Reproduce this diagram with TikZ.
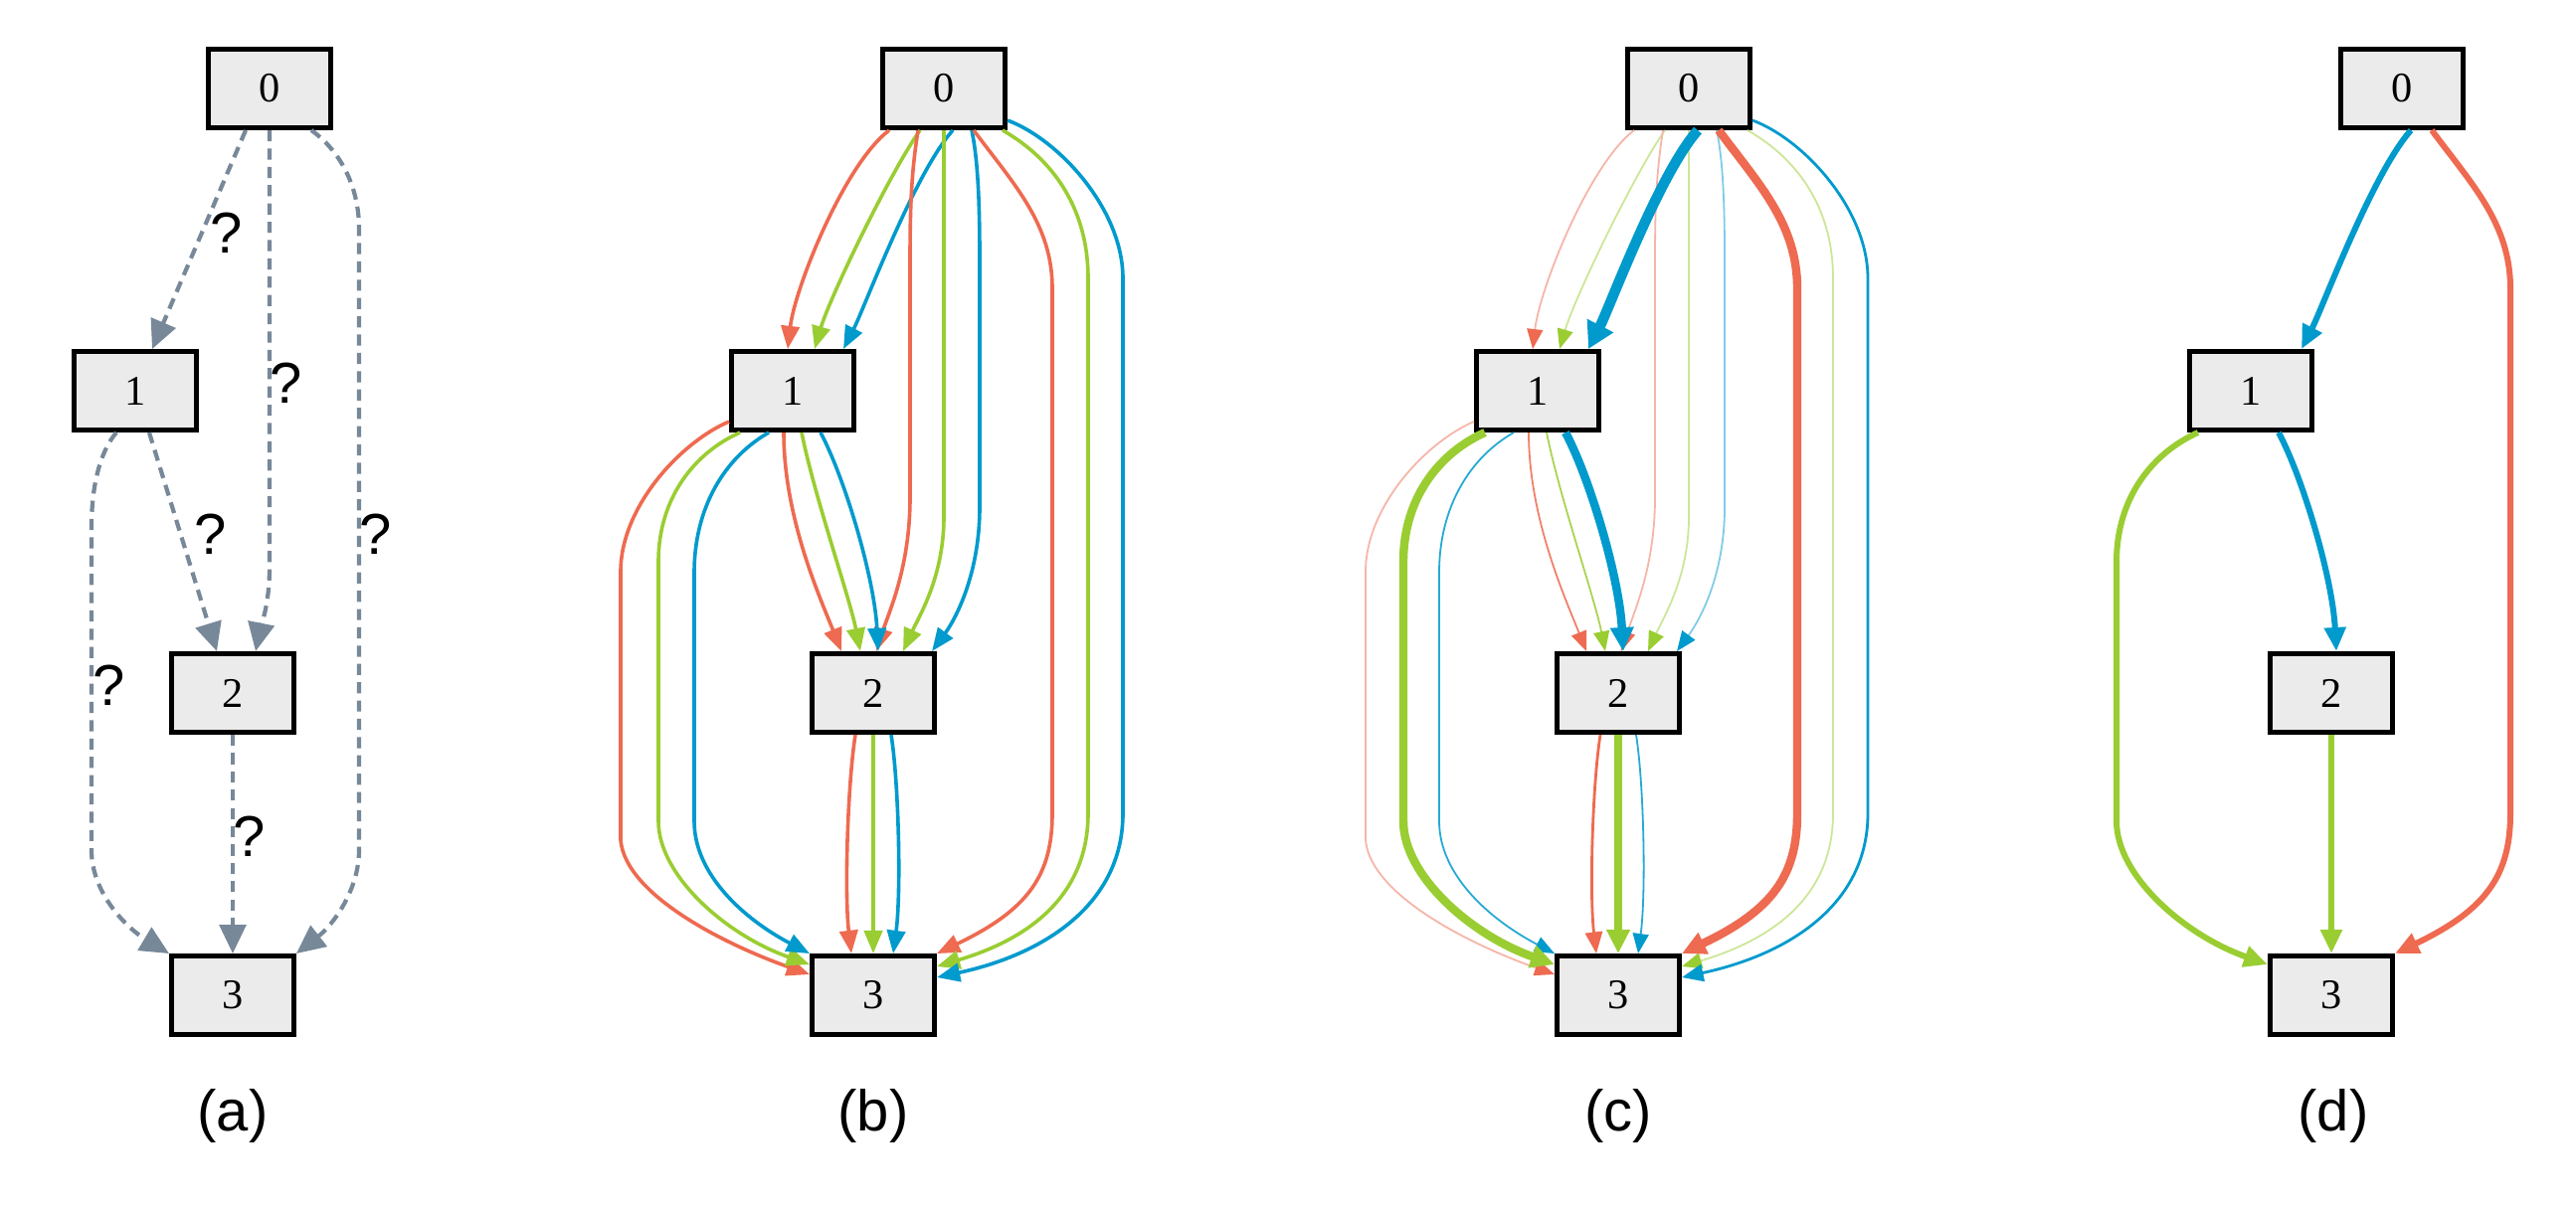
\documentclass[tikz,border=0pt]{standalone}
\usepackage{fontspec}
\setmainfont{Liberation Serif}
\newfontfamily\sansf{Liberation Sans}
\usetikzlibrary{arrows.meta}
\definecolor{boxgray}{HTML}{EBEBEB}
\definecolor{slate}{HTML}{778899}
\definecolor{ered}{HTML}{EE6A50}
\definecolor{egreen}{HTML}{9ACD32}
\definecolor{eblue}{HTML}{009ACD}
\tikzset{
 box/.style={draw=black, line width=1.2pt, fill=boxgray, minimum width=30.8pt, minimum height=19.8pt, inner sep=0pt, font=\fontsize{10.6pt}{12pt}\selectfont},
 qm/.style={font=\sansf\fontsize{14.5pt}{17pt}\selectfont, inner sep=0pt},
 capt/.style={font=\sansf\fontsize{14.5pt}{17pt}\selectfont, inner sep=0pt, anchor=base},
 dsh/.style={draw=slate, line width=1.05pt, dash pattern=on 2.8pt off 1.8pt, -{Triangle[length=7.2pt,width=6.6pt]}},
 nrm/.style={draw=#1, line width=0.9pt, -{Triangle[length=5.8pt,width=4.6pt]}},
 fad/.style={draw=#1!50, line width=0.45pt, -{Triangle[length=5pt,width=4pt,color=#1]}},
 thn/.style={draw=#1!85, line width=0.45pt, -{Triangle[length=5pt,width=4pt,color=#1]}},
 med/.style={draw=#1, line width=0.7pt, -{Triangle[length=5.4pt,width=4.3pt]}},
 thk/.style={draw=#1, line width=2.1pt, -{Triangle[length=6pt,width=5.6pt]}},
 vthk/.style={draw=#1, line width=2.6pt, -{Triangle[length=6.6pt,width=7pt]}},
 dthk/.style={draw=#1, line width=1.5pt, -{Triangle[length=6pt,width=5.2pt]}},
}
\newcommand\mkpanel[2]{%
 \node[box] (#10) at (#2,89) {0};
 \node[box] (#11) at (#2-152,393) {1};
 \node[box] (#12) at (#2-71,697) {2};
 \node[box] (#13) at (#2-71,1001) {3};
}
\newcommand\pabR[3]{\draw[#3] ([xshift=-13.75pt]#10.south) .. controls (#2-100,165) and (#2-150,290) .. ([xshift=-1.25pt]#11.north);}
\newcommand\pabG[3]{\draw[#3] ([xshift=-6pt]#10.south) .. controls (#2-55,175) and (#2-115,300) .. ([xshift=5.5pt]#11.north);}
\newcommand\pabB[3]{\draw[#3] ([xshift=2.25pt]#10.south) .. controls (#2-30,175) and (#2-80,310) .. ([xshift=12.75pt]#11.north);}
\newcommand\pacR[3]{\draw[#3] ([xshift=-6.5pt]#10.south) .. controls (#2-32,170) and (#2-34,200) .. (#2-34,260) -- (#2-34,500) .. controls (#2-34,570) and (#2-55,615) .. ([xshift=0.75pt]#12.north);}
\newcommand\pacG[3]{\draw[#3] (#10.south) -- (#2,520) .. controls (#2,580) and (#2-25,620) .. ([xshift=7.5pt]#12.north);}
\newcommand\pacB[3]{\draw[#3] ([xshift=7pt]#10.south) .. controls (#2+34,160) and (#2+36,200) .. (#2+36,260) -- (#2+36,510) .. controls (#2+36,580) and (#2+10,625) .. ([xshift=14.75pt]#12.north);}
\newcommand\padR[3]{\draw[#3] ([xshift=7.5pt]#10.south) .. controls (#2+70,185) and (#2+109,225) .. (#2+109,290) -- (#2+109,818) .. controls (#2+109,880) and (#2+85,915) .. (#13.north east);}
\newcommand\padG[3]{\draw[#3] ([xshift=14.75pt]#10.south) .. controls (#2+110,160) and (#2+145,210) .. (#2+145,280) -- (#2+145,818) .. controls (#2+145,890) and (#2+100,940) .. ([yshift=7.25pt]#13.east);}
\newcommand\padB[3]{\draw[#3] ([yshift=-8pt]#10.east) .. controls (#2+115,140) and (#2+180,210) .. (#2+180,280) -- (#2+180,818) .. controls (#2+180,910) and (#2+100,960) .. ([yshift=4.5pt]#13.east);}
\newcommand\pbcR[3]{\draw[#3] ([xshift=-2.25pt]#11.south) .. controls (#2-161,520) and (#2-125,600) .. ([xshift=-8pt]#12.north);}
\newcommand\pbcG[3]{\draw[#3] ([xshift=2.25pt]#11.south) .. controls (#2-130,500) and (#2-95,600) .. ([xshift=-3.25pt]#12.north);}
\newcommand\pbcB[3]{\draw[#3] ([xshift=7pt]#11.south) .. controls (#2-100,480) and (#2-70,580) .. ([xshift=1.25pt]#12.north);}
\newcommand\pbdR[3]{\draw[#3] ([yshift=-7.75pt]#11.west) .. controls (#2-265,445) and (#2-325,510) .. (#2-325,575) -- (#2-325,845) .. controls (#2-320,900) and (#2-220,950) .. ([yshift=5.25pt]#13.west);}
\newcommand\pbdG[3]{\draw[#3] ([xshift=-13.25pt]#11.south) .. controls (#2-250,455) and (#2-287,500) .. (#2-287,565) -- (#2-287,826) .. controls (#2-287,880) and (#2-220,940) .. ([yshift=7.75pt]#13.west);}
\newcommand\pbdB[3]{\draw[#3] ([xshift=-6pt]#11.south) .. controls (#2-220,460) and (#2-251,510) .. (#2-251,576) -- (#2-251,826) .. controls (#2-251,880) and (#2-200,925) .. (#13.north west);}
\newcommand\pcdR[3]{\draw[#3] ([xshift=-4.5pt]#12.south) .. controls (#2-97,790) and (#2-100,900) .. ([xshift=-5.5pt]#13.north);}
\newcommand\pcdG[3]{\draw[#3] (#12.south) -- (#13.north);}
\newcommand\pcdB[3]{\draw[#3] ([xshift=4.5pt]#12.south) .. controls (#2-45,790) and (#2-43,900) .. ([xshift=5pt]#13.north);}
\begin{document}
\begin{tikzpicture}[x=0.25pt,y=-0.25pt]
\useasboundingbox (0,0) rectangle (2590,1215);
% ---------- panel (a)
\node[box] (a0) at (271,89) {0};
\node[box] (a1) at (136,393) {1};
\node[box] (a2) at (234,697) {2};
\node[box] (a3) at (234,1001) {3};
\draw[dsh] ([xshift=-6pt]a0.south) -- ([xshift=4.25pt]a1.north);
\draw[dsh] (a0.south) -- (271,570) .. controls (271,610) and (262,630) .. ([xshift=5.75pt]a2.north);
\draw[dsh] ([xshift=10.5pt]a0.south) .. controls (340,150) and (361,185) .. (361,230) -- (361,855) .. controls (361,895) and (335,930) .. (a3.north east);
\draw[dsh] ([xshift=3.5pt]a1.south) -- ([xshift=-4pt]a2.north);
\draw[dsh] ([xshift=-4.75pt]a1.south) .. controls (100,455) and (92,490) .. (92,530) -- (92,855) .. controls (92,900) and (130,935) .. (a3.north west);
\draw[dsh] (a2.south) -- (a3.north);
\node[qm] (q01) at (228,234) {?};
\node[qm] (q02) at (288,385) {?};
\node[qm] (q12) at (212,537) {?};
\node[qm] (q03) at (378,537) {?};
\node[qm] (q13) at (110,689) {?};
\node[qm] (q23) at (251,841) {?};
\node[capt] (capa) at (234,1137) {(a)};
% ---------- panel (b)
\mkpanel{b}{949}
\pabR{b}{949}{nrm=ered}\pabG{b}{949}{nrm=egreen}\pabB{b}{949}{nrm=eblue}
\pacR{b}{949}{nrm=ered}\pacG{b}{949}{nrm=egreen}\pacB{b}{949}{nrm=eblue}
\padR{b}{949}{nrm=ered}\padG{b}{949}{nrm=egreen}\padB{b}{949}{nrm=eblue}
\pbcR{b}{949}{nrm=ered}\pbcG{b}{949}{nrm=egreen}\pbcB{b}{949}{nrm=eblue}
\pbdR{b}{949}{nrm=ered}\pbdG{b}{949}{nrm=egreen}\pbdB{b}{949}{nrm=eblue}
\pcdR{b}{949}{nrm=ered}\pcdG{b}{949}{nrm=egreen}\pcdB{b}{949}{nrm=eblue}
\node[capt] (capb) at (878,1137) {(b)};
% ---------- panel (c)
\mkpanel{c}{1698}
\pabR{c}{1698}{fad=ered}\pabG{c}{1698}{fad=egreen}
\pacR{c}{1698}{fad=ered}\pacG{c}{1698}{fad=egreen}\pacB{c}{1698}{fad=eblue}
\padG{c}{1698}{fad=egreen}\padB{c}{1698}{med=eblue}
\pbcR{c}{1698}{thn=ered}\pbcG{c}{1698}{thn=egreen}
\pbdR{c}{1698}{fad=ered}\pbdB{c}{1698}{thn=eblue}
\pcdR{c}{1698}{med=ered}\pcdB{c}{1698}{thn=eblue}
\pabB{c}{1698}{vthk=eblue}
\padR{c}{1698}{thk=ered}
\pbcB{c}{1698}{thk=eblue}
\pbdG{c}{1698}{thk=egreen}
\pcdG{c}{1698}{thk=egreen}
\node[capt] (capc) at (1627,1137) {(c)};
% ---------- panel (d)
\mkpanel{d}{2415}
\pabB{d}{2415}{dthk=eblue}
\padR{d}{2415}{dthk=ered}
\pbcB{d}{2415}{dthk=eblue}
\pbdG{d}{2415}{dthk=egreen}
\pcdG{d}{2415}{dthk=egreen}
\node[capt] (capd) at (2346,1137) {(d)};
\end{tikzpicture}
\end{document}
